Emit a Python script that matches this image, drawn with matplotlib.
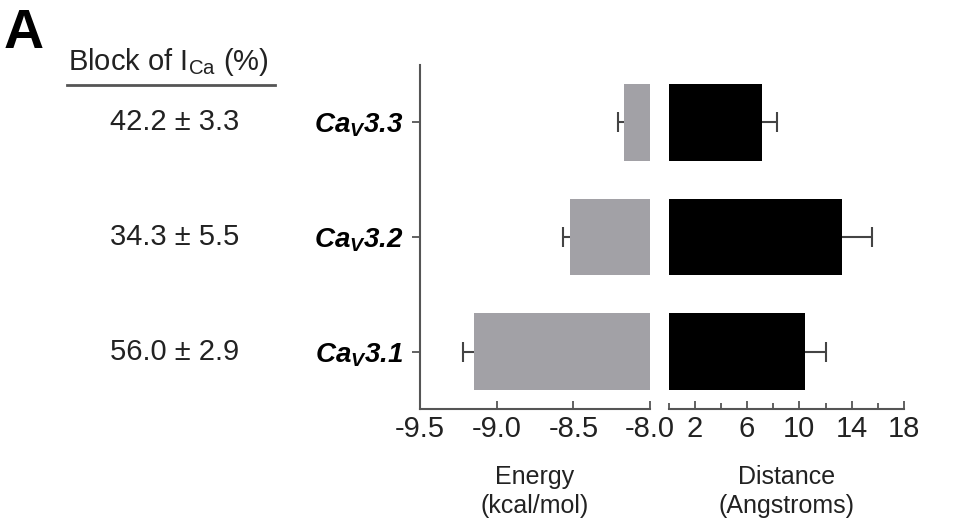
import numpy as np
import matplotlib
matplotlib.use("Agg")
from matplotlib import pyplot as plt
from matplotlib import transforms
from matplotlib.lines import Line2D
from matplotlib.ticker import FixedLocator

# Chart data (bottom to top)
channels = ["3.1", "3.2", "3.3"]
block_mean = [56.0, 34.3, 42.2]
block_sem = [2.9, 5.5, 3.3]
energy = [-9.15, -8.52, -8.17]
energy_err = [0.07, 0.05, 0.04]
distance = [10.44, 13.29, 7.12]
distance_err = [1.58, 2.29, 1.15]
energy_ticks = [-9.5, -9.0, -8.5, -8.0]
distance_ticks = [2, 6, 10, 14, 18]
distance_minor = [0, 4, 8, 12, 16]

# Fonts: Arial-like everywhere, also inside mathtext
plt.rcParams["font.family"] = ["Liberation Sans", "DejaVu Sans"]
plt.rcParams["mathtext.fontset"] = "custom"
plt.rcParams["mathtext.rm"] = "Liberation Sans"
plt.rcParams["mathtext.it"] = "Liberation Sans:italic"
plt.rcParams["mathtext.bf"] = "Liberation Sans:bold"
plt.rcParams["mathtext.bfit"] = "Liberation Sans:italic:bold"

text_color = "#222222"
spine_color = "#555555"
err_color = "#444444"
grey_bar = "#a2a1a6"

fig = plt.figure(figsize=(9.64, 5.23), dpi=100)
ax_e = fig.add_axes([0.4357, 0.218, 0.2386, 0.6577])
ax_d = fig.add_axes([0.6935, 0.218, 0.2443, 0.6577])

y = np.arange(len(channels))
bar_h = 0.67

# Energy bars grow leftwards from -8.0
ax_e.barh(y, np.array(energy) + 8.0, left=-8.0, height=bar_h, color=grey_bar, zorder=3)
ax_e.hlines(y, np.array(energy) - np.array(energy_err), energy, color=err_color, lw=1.5, zorder=2)
ax_e.plot(np.array(energy) - np.array(energy_err), y, ls="none", marker="|", ms=14,
          mew=1.5, color=err_color, zorder=2)

# Distance bars grow rightwards from 0
ax_d.barh(y, distance, height=bar_h, color="black", zorder=3)
ax_d.hlines(y, distance, np.array(distance) + np.array(distance_err), color=err_color, lw=1.5, zorder=2)
ax_d.plot(np.array(distance) + np.array(distance_err), y, ls="none", marker="|", ms=14,
          mew=1.5, color=err_color, zorder=2)

for ax in (ax_e, ax_d):
    ax.set_ylim(-0.5, 2.5)
    ax.spines["top"].set_visible(False)
    ax.spines["right"].set_visible(False)
    ax.spines["bottom"].set_color(spine_color)
    ax.spines["bottom"].set_linewidth(1.5)
    ax.tick_params(axis="x", direction="in", length=6, width=1.3, color=spine_color,
                   labelsize=21, labelcolor=text_color, pad=4)

ax_e.set_xlim(-9.5, -8.0)
ax_e.set_xticks(energy_ticks)
ax_e.set_xticklabels(["%.1f" % t for t in energy_ticks])
ax_e.spines["left"].set_color(spine_color)
ax_e.spines["left"].set_linewidth(1.5)
ax_e.set_yticks(y)
ax_e.set_yticklabels([r"$\mathbfit{Ca_{V}" + c + "}$" for c in channels])
ax_e.tick_params(axis="y", direction="out", length=6, width=1.3, color=spine_color,
                 labelsize=20, labelcolor="black", pad=6)
ax_e.set_xlabel("Energy\n(kcal/mol)", fontsize=18, color=text_color, labelpad=16,
                linespacing=1.25)

ax_d.set_xlim(0, 18)
ax_d.set_xticks(distance_ticks)
ax_d.xaxis.set_minor_locator(FixedLocator(distance_minor))
ax_d.tick_params(axis="x", which="minor", direction="in", length=4, width=1.3, color=spine_color)
ax_d.spines["left"].set_visible(False)
ax_d.set_yticks([])
ax_d.set_xlabel("Distance\n(Angstroms)", fontsize=18, color=text_color, labelpad=16,
                linespacing=1.25)

# Block of I_Ca column, aligned with the bars
trans = transforms.blended_transform_factory(fig.transFigure, ax_e.transData)
for yi, m, s in zip(y, block_mean, block_sem):
    ax_e.text(0.1815, yi, "%.1f \u00b1 %.1f" % (m, s), transform=trans, ha="center",
              va="center", fontsize=21, color=text_color)

fig.text(0.175, 0.881, r"Block of I$_{\mathrm{Ca}}$ (%)", ha="center", va="center",
         fontsize=21, color=text_color)
fig.add_artist(Line2D([0.069, 0.285], [0.837, 0.837], transform=fig.transFigure,
                      color=spine_color, lw=2))
fig.text(0.004, 0.985, "A", ha="left", va="top", fontsize=40, fontweight="bold", color="black")

fig.savefig("out.png", dpi=100)
